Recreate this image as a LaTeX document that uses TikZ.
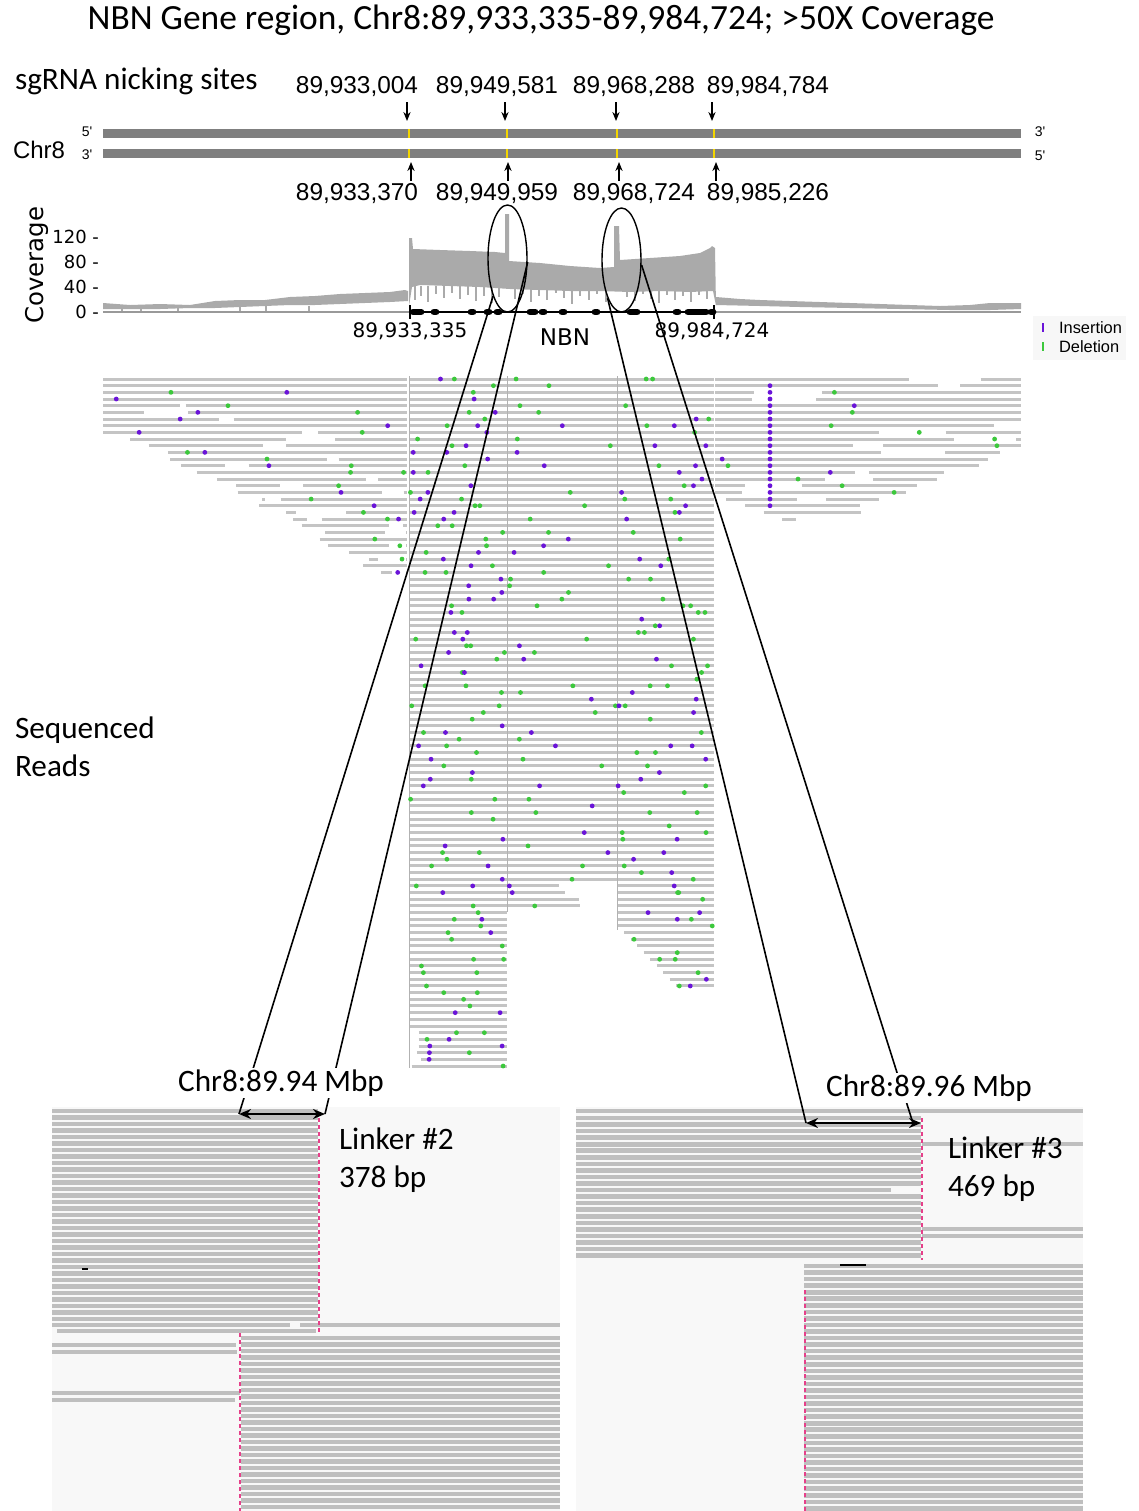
\documentclass[tikz,border=0pt]{standalone}
\usepackage{fontspec}
\setmainfont{Carlito}
\newfontfamily\arialfont{Liberation Sans}
\newfontfamily\dejafont{DejaVu Sans}
\usetikzlibrary{shapes.geometric,arrows.meta}
\definecolor{readgray}{HTML}{C4C4C4}
\definecolor{panelgray}{HTML}{BFBFBF}
\definecolor{panelbg}{HTML}{F8F8F8}
\definecolor{covgray}{HTML}{AAAAAA}
\definecolor{chrgray}{HTML}{7F7F7F}
\definecolor{cutyellow}{HTML}{F2D500}
\definecolor{inspurple}{HTML}{6A14D8}
\definecolor{delgreen}{HTML}{3CC83C}
\definecolor{linkpink}{HTML}{E6408A}
\newcommand\calfont{\fontsize{15.6}{18.8}\selectfont}
\newcommand\numfont{\arialfont\fontsize{12.2}{14}\selectfont}
% random indel dots on one read row
\newcommand\readdots[3]{%
  \pgfmathsetmacro{\rdx}{#1+rnd*(#2-#1)}%
  \pgfmathsetmacro{\rdc}{rnd}%
  \ifdim\rdc pt<0.22pt \fill[inspurple] (\rdx,#3) circle (2.4);\fi
  \ifdim\rdc pt>0.66pt \fill[delgreen] (\rdx,#3) circle (2.4);\fi
}
\begin{document}
\begin{tikzpicture}[x=0.5pt,y=-0.5pt,
  readseg/.style={readgray,line width=1.5pt},
  panelread/.style={panelgray,line width=2.3pt},
  nickarrow/.style={line width=0.6pt,-{Stealth[length=4.5pt,width=3.6pt]}},
  spanarrow/.style={line width=1pt,{Stealth[length=6pt,width=5pt]}-{Stealth[length=6pt,width=5pt]}},
  zoomline/.style={line width=0.8pt},
  linkcut/.style={linkpink,line width=0.9pt,dash pattern=on 2pt off 1.5pt}]
\useasboundingbox (0,0) rectangle (1139,1511);

\node (title) at (541,20) {\fontsize{17.7}{21}\selectfont NBN Gene region, Chr8:89,933,335-89,984,724; >50X Coverage};
\node[anchor=west] (sgrna) at (8,81) {\calfont sgRNA nicking sites};

% chromosome strands
\fill[chrgray] (103,129) rectangle (1021,138);
\fill[chrgray] (103,149) rectangle (1021,158);
\foreach \x in {409,507,617,714}{
  \draw[cutyellow,line width=1.3pt] (\x,129) -- (\x,138);
  \draw[cutyellow,line width=1.3pt] (\x,149) -- (\x,158);
}
\node[anchor=west] (chr) at (6,150) {\arialfont\fontsize{12}{14}\selectfont Chr8};
\node (p5l) at (87,132) {\arialfont\fontsize{7}{8}\selectfont 5'};
\node (p3l) at (87,155) {\arialfont\fontsize{7}{8}\selectfont 3'};
\node (p3r) at (1040,132) {\arialfont\fontsize{7}{8}\selectfont 3'};
\node (p5r) at (1040,156) {\arialfont\fontsize{7}{8}\selectfont 5'};

\node (top1) at (357,87) {\numfont 89,933,004};
\node (top2) at (497,87) {\numfont 89,949,581};
\node (top3) at (634,87) {\numfont 89,968,288};
\node (top4) at (768,87) {\numfont 89,984,784};
\node (bot1) at (357,194) {\numfont 89,933,370};
\node (bot2) at (497,194) {\numfont 89,949,959};
\node (bot3) at (634,194) {\numfont 89,968,724};
\node (bot4) at (768,194) {\numfont 89,985,226};
\foreach \x [count=\n] in {407,505,616,712}{
  \coordinate (nt\n) at (\x,102);
  \coordinate (nc\n) at (\x,121);
  \draw[nickarrow] (nt\n) -- (nc\n);
}
\foreach \x [count=\n] in {411,508,619,716}{
  \coordinate (nb\n) at (\x,181);
  \coordinate (nd\n) at (\x,162);
  \draw[nickarrow] (nb\n) -- (nd\n);
}

% coverage track
\node[rotate=90] (covlab) at (37,265) {\dejafont\fontsize{12.2}{14}\selectfont Coverage};
\node[anchor=east] (t120) at (106,237) {\dejafont\fontsize{9}{10}\selectfont 120 -};
\node[anchor=east] (t80) at (106,262) {\dejafont\fontsize{9}{10}\selectfont 80 -};
\node[anchor=east] (t40) at (106,287) {\dejafont\fontsize{9}{10}\selectfont 40 -};
\node[anchor=east] (t0) at (106,312) {\dejafont\fontsize{9}{10}\selectfont 0 -};
\fill[covgray] (103,303) -- (130,305) -- (160,304) -- (190,305) -- (215,301) -- (240,300)
  -- (265,300) -- (290,297) -- (315,296) -- (340,294) -- (365,293) -- (390,292) -- (405,290)
  -- (408,291) -- (408,301) -- (390,302) -- (365,303) -- (340,304) -- (315,305) -- (290,305)
  -- (265,306) -- (240,307) -- (215,308) -- (190,308) -- (160,309) -- (130,309) -- (103,309) -- cycle;
\foreach \x in {122,141,178,240,266,309}
  \draw[covgray,line width=0.6pt] (\x,306) -- (\x,312);
\fill[covgray] (409,306) -- (409,238) -- (412,238) -- (413,249) -- (440,250) -- (470,251)
  -- (495,252) -- (505,253) -- (505,214) -- (509,214) -- (509,261) -- (540,263) -- (570,266)
  -- (600,268) -- (614,267) -- (614,226) -- (619,226) -- (620,260) -- (650,258) -- (680,256)
  -- (700,253) -- (710,248) -- (712,246) -- (715,248) -- (716,306) -- (713,291) -- (690,292)
  -- (660,291) -- (630,292) -- (600,291) -- (570,291) -- (540,290) -- (510,289) -- (480,287)
  -- (450,286) -- (420,285) -- (412,287) -- cycle;
\foreach \x/\b in {415/300,421/296,428/302,436/294,444/298,452/293,460/299,468/295,476/301,
  484/296,492/303,499/297,515/299,523/294,531/302,539/296,547/300,556/293,564/298,572/304,
  580/296,589/300,597/294,606/302,627/297,635/301,643/294,651/299,659/303,667/295,675/300,
  683/296,691/302,699/295,707/299}
  \draw[covgray,line width=1.1pt] (\x,286) -- (\x,\b);
\fill[covgray] (716,297) -- (740,299) -- (760,300) -- (790,301) -- (820,302) -- (850,303)
  -- (880,304) -- (910,305) -- (940,306) -- (970,305) -- (990,303) -- (1021,303) -- (1021,309)
  -- (990,310) -- (950,310) -- (900,309) -- (850,308) -- (800,307) -- (760,306) -- (716,305) -- cycle;
\draw[gray!80,line width=0.6pt] (103,312) -- (1021,312);

% NBN gene model
\draw[line width=1.1pt] (410,312) -- (714,312);
\draw[line width=1pt] (410,305) -- (410,319);
\draw[line width=1pt] (714,305) -- (714,319);
\foreach \a/\b in {413/421,434/436,471/473,487/489,497/499,530/535,542/544,562/564,595/597,
  630/637,676/678,688/706,711/713}
  \draw[line width=3.4pt,line cap=round] (\a,312) -- (\b,312);
\node (g1) at (410,331) {\dejafont\fontsize{10}{12}\selectfont 89,933,335};
\node (gname) at (565,337) {\dejafont\fontsize{11.5}{13}\selectfont NBN};
\node (g2) at (712,331) {\dejafont\fontsize{10}{12}\selectfont 89,984,724};

% legend
\fill[gray!6] (1033,316) rectangle (1126,360);
\draw[inspurple,line width=1.2pt] (1043,323) -- (1043,332);
\draw[delgreen,line width=1.2pt] (1043,342) -- (1043,351);
\node[anchor=west] (ins) at (1052,328) {\arialfont\fontsize{8.2}{10}\selectfont Insertion};
\node[anchor=west] (del) at (1052,347) {\arialfont\fontsize{8.2}{10}\selectfont Deletion};

% sequenced reads pile
\draw[gray!60,line width=0.4pt] (409,376) -- (409,1068);
\draw[gray!60,line width=0.4pt] (507,376) -- (507,912);
\draw[gray!60,line width=0.4pt] (617,376) -- (617,930);
\pgfmathsetseed{1139}
\foreach \i in {0,...,103}{
  \pgfmathsetmacro{\ry}{379+6.67*\i}
  \ifnum\i<30
    \pgfmathsetmacro{\xs}{103+277*(max(\ry-437,0.01)/141)^0.8+(\ry>437)*rnd*20}
    \pgfmathsetmacro{\xg}{\xs+rnd*(406-\xs)}
    \pgfmathsetmacro{\xh}{min(\xg+(rnd<0.5)*(5+rnd*45),406)}
    \draw[readseg] (\xs,\ry) -- (\xg,\ry);
    \draw[readseg] (\xh,\ry) -- (407,\ry);
    \readdots{\xs}{407}{\ry}
    \readdots{\xs}{407}{\ry}
  \fi
  \ifnum\i<22
    \pgfmathsetmacro{\xs}{715+max(\ry-495,0)*2.8}
    \pgfmathsetmacro{\xe}{min(1021,1021-max(\ry-448,0)*2.3-(\ry>448)*rnd*30)}
    \pgfmathsetmacro{\xg}{\xs+rnd*(\xe-\xs)}
    \pgfmathsetmacro{\xh}{min(\xg+(rnd<0.6)*(8+rnd*70),\xe)}
    \draw[readseg] (\xs,\ry) -- (\xg,\ry);
    \draw[readseg] (\xh,\ry) -- (\xe,\ry);
    \readdots{\xs}{\xe}{\ry}
  \fi
  \pgfmathsetmacro{\xs}{410+(\i>97)*rnd*14}
  \draw[readseg] (\xs,\ry) -- (506.5,\ry);
  \readdots{\xs}{506}{\ry}
  \readdots{\xs}{506}{\ry}
  \ifnum\i<80
    \pgfmathsetmacro{\xe}{616.5-(\i>75)*rnd*80}
    \draw[readseg] (507.5,\ry) -- (\xe,\ry);
    \readdots{508.5}{\xe}{\ry}
  \fi
  \ifnum\i<92
    \pgfmathsetmacro{\xs}{617.5+max(\i-82,0)*6.5}
    \draw[readseg] (\xs,\ry) -- (713.5,\ry);
    \readdots{\xs}{713}{\ry}
    \readdots{\xs}{713}{\ry}
  \fi
}
\foreach \i in {1,...,19}
  \fill[inspurple] (770,379+6.67*\i) circle (2.4);
\node[anchor=west,align=left,font=\calfont] (seqreads) at (8,747) {Sequenced\\Reads};

% zoomed read panels
\fill[panelbg] (52,1107) rectangle (560,1511);
\fill[panelbg] (576,1107) rectangle (1083,1511);
\foreach \k in {0,...,32}
  \draw[panelread] (52,1111+6.5*\k) -- (318,1111+6.5*\k);
\draw[panelread] (52,1325) -- (290,1325);
\draw[panelread] (300,1325) -- (560,1325);
\draw[panelread] (57,1331) -- (316,1331);
\foreach \k in {0,...,26}
  \draw[panelread] (241,1338+6.5*\k) -- (560,1338+6.5*\k);
\draw[panelread] (52,1345) -- (236,1345);
\draw[panelread] (52,1352) -- (237,1352);
\draw[panelread] (52,1393) -- (240,1393);
\draw[panelread] (52,1400) -- (235,1400);
\draw[line width=1pt] (82,1269) -- (88,1269);
\draw[linkcut] (319,1118) -- (319,1332);
\draw[linkcut] (240,1333) -- (240,1511);

\draw[panelread] (576,1111) -- (1083,1111);
\foreach \k in {0,...,21}
  \draw[panelread] (576,1118+6.55*\k) -- (921,1118+6.55*\k);
\draw[panelbg,line width=2.6pt] (891,1190) -- (921,1190);
\draw[panelread] (922,1144) -- (1083,1144);
\draw[panelread] (922,1229) -- (1083,1229);
\draw[panelread] (922,1236) -- (1083,1236);
\foreach \k in {0,...,37}
  \draw[panelread] (804,1266+6.55*\k) -- (1083,1266+6.55*\k);
\draw[line width=1pt] (840,1265) -- (866,1265);
\draw[linkcut] (922,1118) -- (922,1260);
\draw[linkcut] (805,1290) -- (805,1511);

% zoom from coverage peaks
\node[draw,ellipse,line width=0.7pt,minimum width=19.5pt,minimum height=53.5pt,inner sep=0pt] (peakA) at (507.5,258.5) {};
\node[draw,ellipse,line width=0.7pt,minimum width=19.5pt,minimum height=52pt,inner sep=0pt] (peakB) at (621.5,260) {};
\coordinate (endA1) at (239,1114);
\coordinate (endA2) at (325,1114);
\coordinate (endB1) at (806,1123);
\coordinate (endB2) at (921,1123);
\coordinate (tailB) at (912,1120);
\draw[zoomline] (peakA.249) -- (endA1);
\draw[zoomline] (peakA.350) -- (endA2);
\draw[zoomline] (peakB.250) -- (endB1);
\draw[zoomline] (peakB.346) -- (tailB);
\draw[spanarrow] (endA1) -- (endA2);
\draw[spanarrow] (endB1) -- (endB2);
\node[fill=white,inner sep=1pt] (mbpA) at (281,1083) {\calfont Chr8:89.94 Mbp};
\node[fill=white,inner sep=1pt] (mbpB) at (929,1088) {\calfont Chr8:89.96 Mbp};
\node[anchor=west,align=left,font=\calfont] (linkA) at (332,1160) {Linker \#2\\378 bp};
\node[anchor=west,align=left,font=\calfont] (linkB) at (941,1169) {Linker \#3\\469 bp};
\end{tikzpicture}
\end{document}
